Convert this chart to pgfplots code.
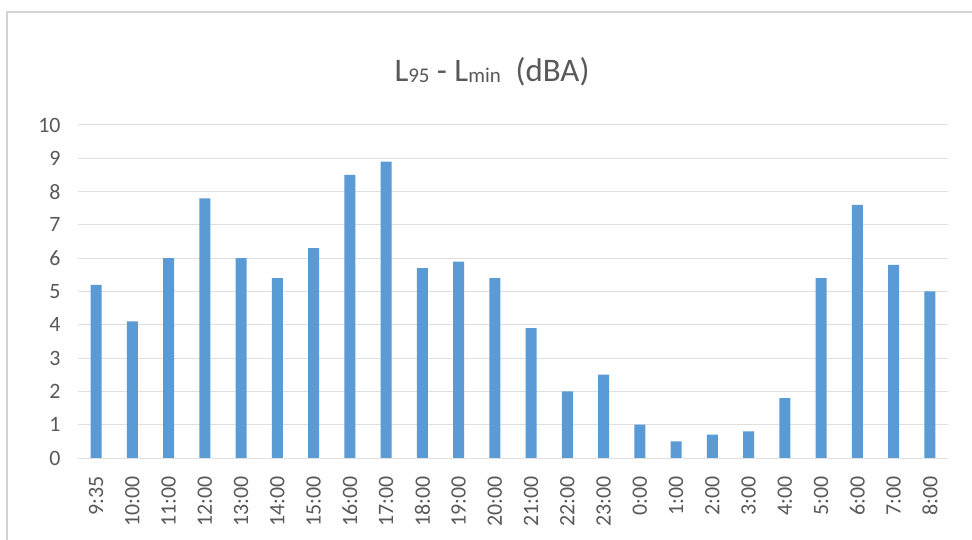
\documentclass[border=0pt]{standalone}
\usepackage{fontspec}
\setmainfont{Carlito}
\usepackage{pgfplots}
\pgfplotsset{compat=1.18}
\definecolor{barblue}{HTML}{5B9BD5}
\definecolor{gridgray}{HTML}{E0E0E0}
\definecolor{labelgray}{HTML}{595959}
\definecolor{framegray}{HTML}{D4D4D4}
\newcommand{\sub}[1]{{\fontsize{21}{23}\selectfont\raisebox{-1bp}{#1}}}
\begin{document}
\begin{tikzpicture}
\useasboundingbox[fill=white] (0,0) rectangle (972bp,540bp);
\draw[framegray, line width=1.5bp] (7bp,0) -- (7bp,528bp) -- (972bp,528bp);
\node[text=labelgray, font=\fontsize{33}{36}\selectfont] at (492bp,468bp)
  {L\sub{95} - L\sub{min}\ \ (dBA)};
\begin{axis}[
    at={(78bp,82bp)}, anchor=south west,
    scale only axis,
    width=870bp, height=333bp,
    xmin=-0.5, xmax=23.5,
    ymin=0, ymax=10,
    ytick={0,1,...,10},
    xtick={0,1,...,23},
    xticklabels={9:35,10:00,11:00,12:00,13:00,14:00,15:00,16:00,17:00,18:00,19:00,20:00,21:00,22:00,23:00,0:00,1:00,2:00,3:00,4:00,5:00,6:00,7:00,8:00},
    major tick length=0pt,
    axis line style={draw=none},
    ymajorgrids,
    grid style={gridgray, line width=1bp},
    /pgf/number format/assume math mode=true,
    yticklabel style={text=labelgray, font=\fontsize{22}{24}\selectfont, xshift=-14bp},
    xticklabel style={text=labelgray, font=\fontsize{22}{24}\selectfont, rotate=90, anchor=east, xshift=-15bp},
    ybar, bar width=11bp,
]
\addplot[fill=barblue, draw=none] coordinates {
  (0,5.2) (1,4.1) (2,6.0) (3,7.8) (4,6.0) (5,5.4) (6,6.3) (7,8.5)
  (8,8.9) (9,5.7) (10,5.9) (11,5.4) (12,3.9) (13,2.0) (14,2.5) (15,1.0)
  (16,0.5) (17,0.7) (18,0.8) (19,1.8) (20,5.4) (21,7.6) (22,5.8) (23,5.0)
};
\end{axis}
\end{tikzpicture}
\end{document}
